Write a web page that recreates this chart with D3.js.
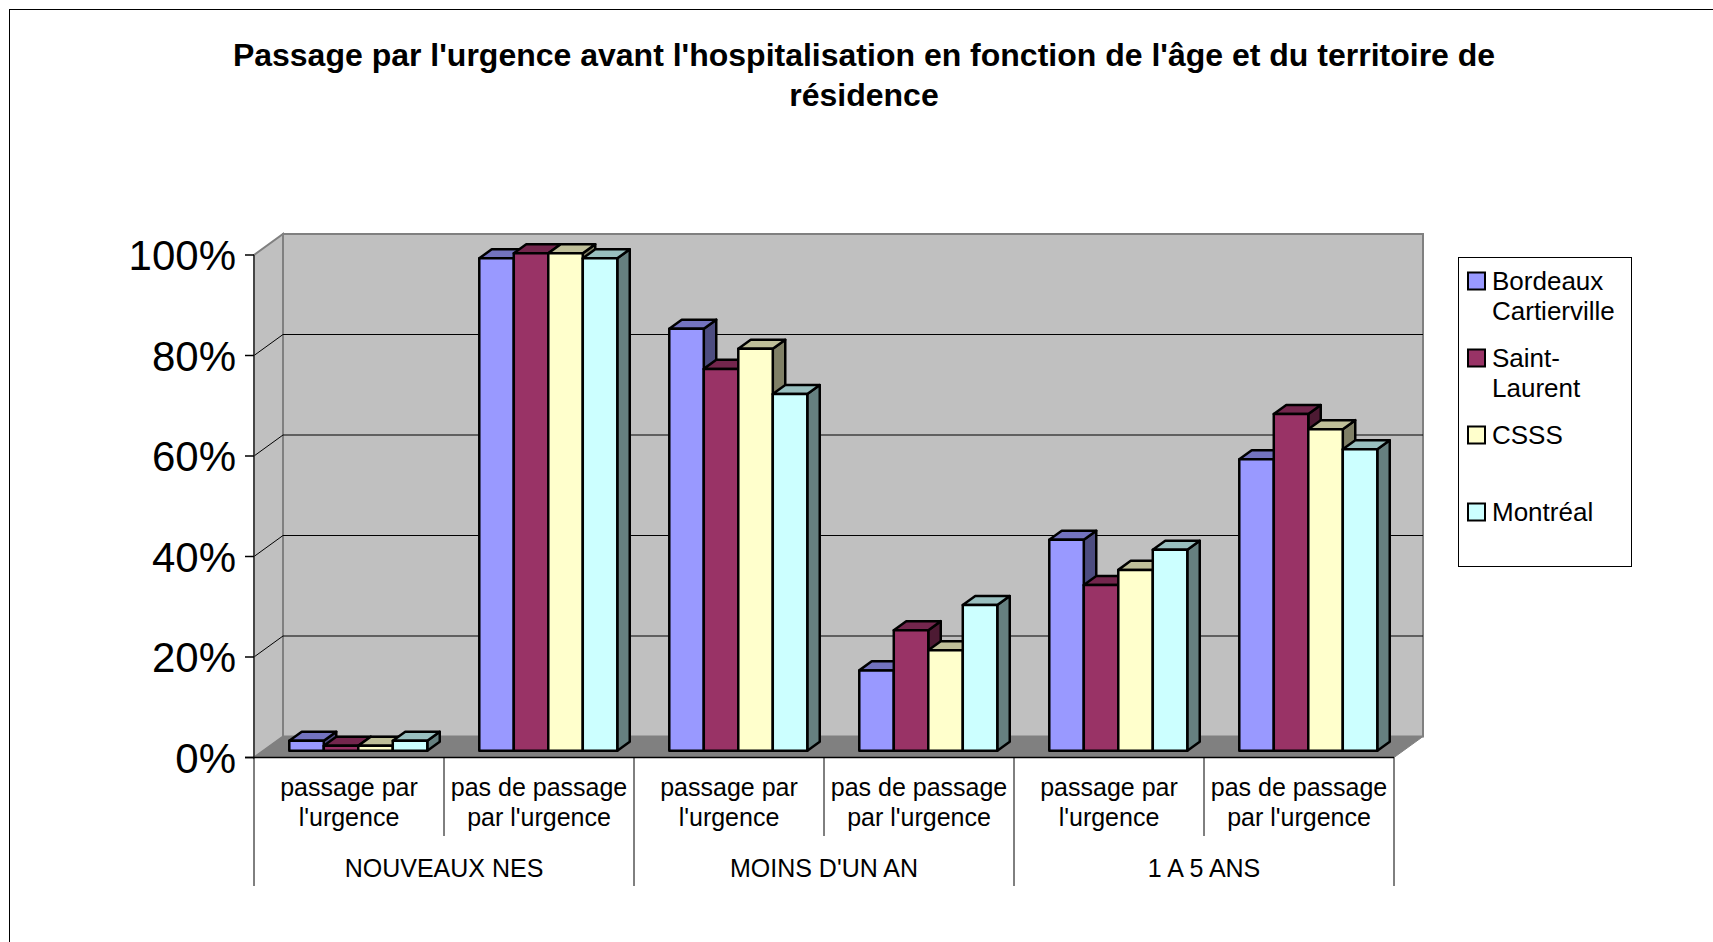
<!DOCTYPE html>
<html>
<head>
<meta charset="utf-8">
<script src="https://cdn.jsdelivr.net/npm/d3@7"></script>
<style>
  body { margin: 0; background: #fff; }
  svg { display: block; font-family: "Liberation Sans", Arial, sans-serif; }
</style>
</head>
<body>
<svg id="chart" width="1713" height="942"></svg>
<script>
// data (percent)
var groups = ["NOUVEAUX NES", "MOINS D'UN AN", "1 A 5 ANS"];
var subLabels = [["passage par", "l'urgence"], ["pas de passage", "par l'urgence"]];
var series = ["Bordeaux Cartierville", "Saint-Laurent", "CSSS", "Montréal"];
var legendLines = [["Bordeaux", "Cartierville"], ["Saint-", "Laurent"], ["CSSS"], ["Montréal"]];
var bordeaux = [2, 98, 84, 16, 42, 58];
var saintLaurent = [1, 99, 76, 24, 33, 67];
var csss = [1, 99, 80, 20, 36, 64];
var montreal = [2, 98, 71, 29, 40, 60];
var yTicks = [0, 20, 40, 60, 80, 100];

var values = [bordeaux, saintLaurent, csss, montreal];
var colors = ["#9999ff", "#993366", "#ffffcc", "#ccffff"];

var svg = d3.select("#chart");

// outer frame
svg.append("rect").attr("x", 9.5).attr("y", 9.5).attr("width", 1720).attr("height", 950)
    .attr("fill", "none").attr("stroke", "#000").attr("stroke-width", 1);

// title
var title = svg.append("text").attr("text-anchor", "middle")
    .style("font-weight", "bold").style("font-size", "32px");
title.append("tspan").attr("x", 864).attr("y", 66)
    .text("Passage par l'urgence avant l'hospitalisation en fonction de l'âge et du territoire de");
title.append("tspan").attr("x", 864).attr("y", 106).text("résidence");

// geometry
var left = 254, right = 1394, wallDX = 29, wallDY = 21;
var nCat = groups.length * subLabels.length;
var cats = d3.range(nCat);

var x0 = d3.scaleBand().domain(cats).range([left, right]);
var groupW = 138;
var x1 = d3.scaleBand().domain(series).range([0, groupW]);
var y = d3.scaleLinear().domain([0, 100]).range([757.5, 255]);

// bar depth: front at 0.32, back at 0.75 of the floor depth
var fFront = 0.32, fBack = 0.75;
var bsx = wallDX * fFront, bsy = wallDY * fFront;
var bdx = wallDX * (fBack - fFront), bdy = wallDY * (fBack - fFront);

var y0 = y(0), y100 = y(100);

// side wall
svg.append("polygon")
    .attr("points", [[left, y100], [left + wallDX, y100 - wallDY], [left + wallDX, y0 - wallDY], [left, y0]].join(" "))
    .attr("fill", "#c0c0c0").attr("stroke", "#808080").attr("stroke-width", 2);
// back wall
svg.append("rect").attr("x", left + wallDX).attr("y", y100 - wallDY)
    .attr("width", right - left).attr("height", y0 - y100)
    .attr("fill", "#c0c0c0").attr("stroke", "#808080").attr("stroke-width", 2);
// floor
svg.append("polygon")
    .attr("points", [[left, y0], [left + wallDX, y0 - wallDY], [right + wallDX, y0 - wallDY], [right, y0]].join(" "))
    .attr("fill", "#808080").attr("stroke", "#808080").attr("stroke-width", 1);

// gridlines
var grid = yTicks.filter(function (t) { return t > 0 && t < 100; });
grid.forEach(function (t) {
    svg.append("line").attr("x1", left + wallDX).attr("x2", right + wallDX)
        .attr("y1", y(t) - wallDY).attr("y2", y(t) - wallDY)
        .attr("stroke", "#000").attr("stroke-width", 1);
    svg.append("line").attr("x1", left).attr("x2", left + wallDX)
        .attr("y1", y(t)).attr("y2", y(t) - wallDY)
        .attr("stroke", "#000").attr("stroke-width", 1);
});

// bars, left to right so the next bar hides the side face
function shade(c, k) {
    var r = d3.rgb(c);
    return d3.rgb(r.r * k, r.g * k, r.b * k).toString();
}
cats.forEach(function (ci) {
    series.forEach(function (s, si) {
        var v = values[si][ci];
        var bx = x0(ci) + (x0.bandwidth() - groupW) / 2 + bsx + x1(s);
        var bw = x1.bandwidth();
        var top = y(v) - bsy, bot = y0 - bsy;
        var g = svg.append("g").attr("stroke", "#000").attr("stroke-width", 2.5)
            .attr("stroke-linejoin", "round");
        g.append("polygon")
            .attr("points", [[bx + bw, top], [bx + bw + bdx, top - bdy], [bx + bw + bdx, bot - bdy], [bx + bw, bot]].join(" "))
            .attr("fill", shade(colors[si], 0.5));
        g.append("polygon")
            .attr("points", [[bx, top], [bx + bdx, top - bdy], [bx + bw + bdx, top - bdy], [bx + bw, top]].join(" "))
            .attr("fill", shade(colors[si], 0.75));
        g.append("rect").attr("x", bx).attr("y", top).attr("width", bw).attr("height", bot - top)
            .attr("fill", colors[si]);
    });
});

// value axis
var yAxis = svg.append("g");
yAxis.append("line").attr("x1", left).attr("x2", left).attr("y1", y100).attr("y2", y0)
    .attr("stroke", "#333").attr("stroke-width", 1.5);
yTicks.forEach(function (t) {
    yAxis.append("line").attr("x1", left - 9).attr("x2", left).attr("y1", y(t)).attr("y2", y(t))
        .attr("stroke", "#000").attr("stroke-width", 1.5);
    yAxis.append("text").attr("x", 236).attr("y", y(t)).attr("dy", "0.36em")
        .attr("text-anchor", "end").style("font-size", "42px").text(t + "%");
});

// category axis
var xAxis = svg.append("g");
xAxis.append("line").attr("x1", left - 9).attr("x2", right).attr("y1", y0).attr("y2", y0)
    .attr("stroke", "#000").attr("stroke-width", 1.5);
d3.range(nCat + 1).forEach(function (i) {
    var xx = i < nCat ? x0(i) : right;
    var major = i % subLabels.length === 0;
    xAxis.append("line").attr("x1", xx).attr("x2", xx).attr("y1", y0).attr("y2", major ? 886 : 836)
        .attr("stroke", "#000").attr("stroke-width", 1);
});
cats.forEach(function (ci) {
    var lines = subLabels[ci % subLabels.length];
    var cx = x0(ci) + x0.bandwidth() / 2;
    lines.forEach(function (l, li) {
        xAxis.append("text").attr("x", cx).attr("y", 787 + li * 30).attr("dy", "0.36em")
            .attr("text-anchor", "middle").style("font-size", "25px").text(l);
    });
});
groups.forEach(function (gname, gi) {
    var gx = x0(gi * subLabels.length) + x0.bandwidth() * subLabels.length / 2;
    xAxis.append("text").attr("x", gx).attr("y", 868).attr("dy", "0.36em")
        .attr("text-anchor", "middle").style("font-size", "25px").text(gname);
});

// legend
var legend = svg.append("g");
legend.append("rect").attr("x", 1458.5).attr("y", 257.5).attr("width", 173).attr("height", 309)
    .attr("fill", "#fff").attr("stroke", "#000").attr("stroke-width", 1);
series.forEach(function (s, si) {
    var cy = 281 + si * 77;
    legend.append("rect").attr("x", 1468).attr("y", cy - 8.5).attr("width", 17).attr("height", 17)
        .attr("fill", colors[si]).attr("stroke", "#000").attr("stroke-width", 2);
    legendLines[si].forEach(function (l, li) {
        legend.append("text").attr("x", 1492).attr("y", cy + li * 30).attr("dy", "0.36em")
            .style("font-size", "26px").text(l);
    });
});
</script>
</body>
</html>
